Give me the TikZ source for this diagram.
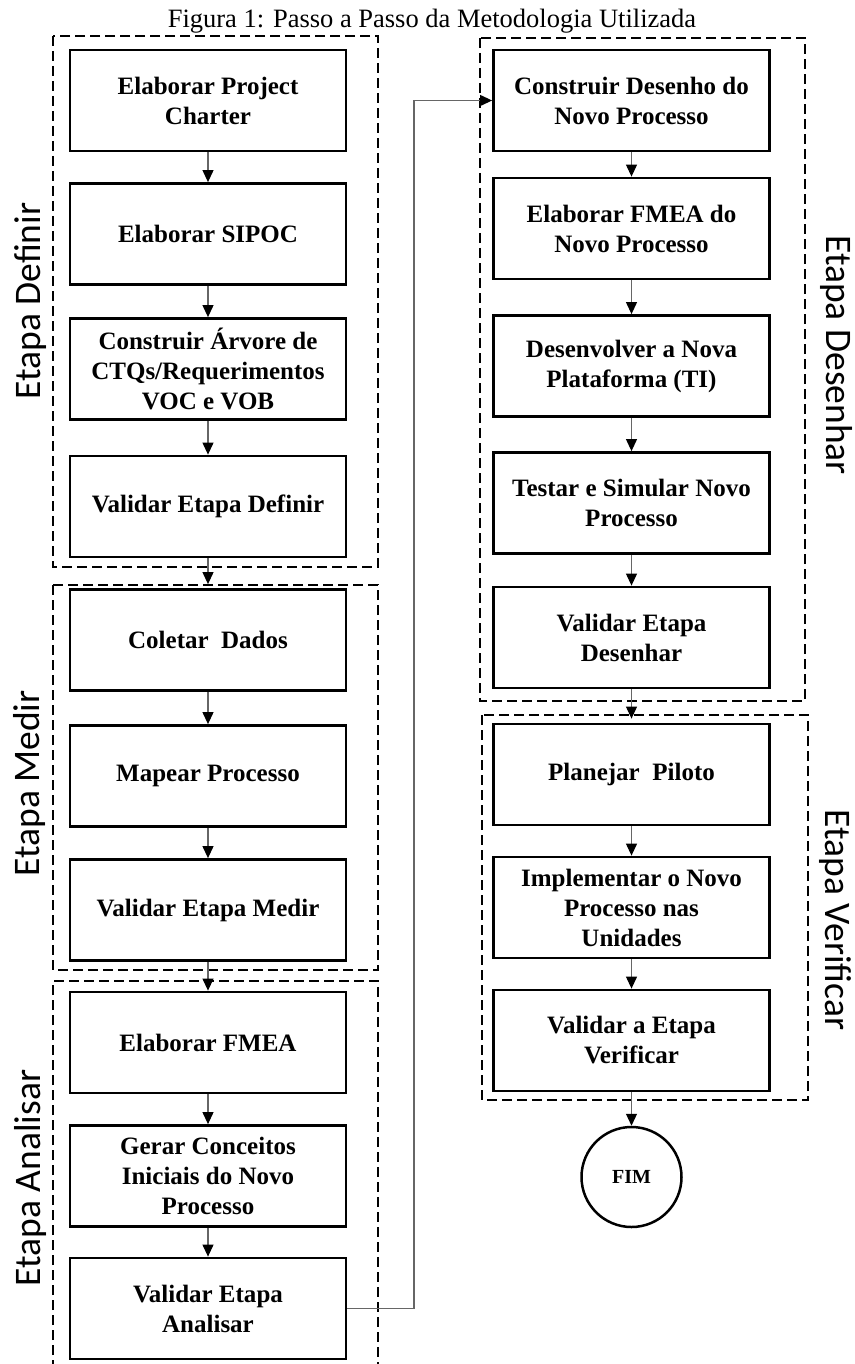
\documentclass[tikz,border=0pt]{standalone}
\usepackage{fontspec}
\setmainfont{Liberation Serif}
\newfontfamily\labfont{Carlito}
\usetikzlibrary{arrows.meta}
\begin{document}
\begin{tikzpicture}[x=1pt,y=-1pt,
  stepbox/.style={draw, line width=2.8pt, minimum width=276pt, minimum height=101pt,
    align=center, inner sep=0pt, font=\fontsize{25}{30}\selectfont\bfseries},
  frame/.style={draw, line width=2pt, dash pattern=on 10pt off 5pt},
  flow/.style={draw=black!60, line width=1.1pt, -{Triangle[length=12pt,width=11pt,color=black]}},
  lab/.style={inner sep=0pt, font=\labfont\fontsize{37.5}{40}\selectfont}]
\useasboundingbox (0,0) rectangle (854,1364);

% title
\node[anchor=base, inner sep=0pt, font=\fontsize{26.5}{28}\selectfont] (title) at (432,28)
  {Figura 1: Passo a Passo da Metodologia Utilizada};

% dashed frames
\draw[frame] (53,36) rectangle (378,567);
\draw[frame] (53,585) rectangle (378,970);
\draw[frame] (53,1370) -- (53,981) -- (378,981) -- (378,1370);
\draw[frame] (480,38) rectangle (805,701);
\draw[frame] (482,715) rectangle (808,1100);

% side labels
\node[lab, rotate=90, anchor=base] (ldef) at (40,301) {Etapa Definir};
\node[lab, rotate=90, anchor=base] (lmed) at (39,783.5) {Etapa Medir};
\node[lab, rotate=90, anchor=base] (lana) at (40,1178) {Etapa Analisar};
\node[lab, rotate=-90, anchor=base] (ldes) at (826,355) {Etapa Desenhar};
\node[lab, rotate=-90, anchor=base] (lver) at (825,920) {Etapa Verificar};

% left column
\node[stepbox] (d1) at (208,100.5) {Elaborar Project\\Charter};
\node[stepbox] (d2) at (208,234) {Elaborar SIPOC};
\node[stepbox] (d3) at (208,369) {Construir Árvore de\\CTQs/Requerimentos\\VOC e VOB};
\node[stepbox] (d4) at (208,506.5) {Validar Etapa Definir};
\node[stepbox] (m1) at (208,640) {Coletar\ \ Dados};
\node[stepbox] (m2) at (208,776) {Mapear Processo};
\node[stepbox] (m3) at (208,910) {Validar Etapa Medir};
\node[stepbox] (a1) at (208,1042.5) {Elaborar FMEA};
\node[stepbox] (a2) at (208,1176) {Gerar Conceitos\\Iniciais do Novo\\Processo};
\node[stepbox] (a3) at (208,1308.5) {Validar Etapa\\Analisar};

% right column
\node[stepbox] (r1) at (631.5,100.5) {Construir Desenho do\\Novo Processo};
\node[stepbox] (r2) at (631.5,228.5) {Elaborar FMEA do\\Novo Processo};
\node[stepbox] (r3) at (631.5,366) {Desenvolver a Nova\\Plataforma (TI)};
\node[stepbox] (r4) at (631.5,503) {Testar e Simular Novo\\Processo};
\node[stepbox] (r5) at (631.5,637.5) {Validar Etapa\\Desenhar};
\node[stepbox] (v1) at (631.5,774.5) {Planejar\ \ Piloto};
\node[stepbox] (v2) at (631.5,907.5) {Implementar o Novo\\Processo nas\\Unidades};
\node[stepbox] (v3) at (631.5,1040.5) {Validar a Etapa\\Verificar};
\node[draw, circle, line width=2.5pt, minimum size=100pt, inner sep=0pt,
  font=\fontsize{20}{22}\selectfont\bfseries] (fim) at (631.5,1177) {FIM};

% connectors
\draw[flow] (d1) -- (d2);
\draw[flow] (d2) -- (d3);
\draw[flow] (d3) -- (d4);
\draw[flow, shorten >=4pt] (d4) -- (m1);
\draw[flow] (m1) -- (m2);
\draw[flow] (m2) -- (m3);
\draw[flow] (m3) -- (a1);
\draw[flow] (a1) -- (a2);
\draw[flow] (a2) -- (a3);
\coordinate (turn) at (414,99);
\draw[flow] (a3.east) -- (a3.east -| turn) |- (r1.west);
\draw[flow] (r1) -- (r2);
\draw[flow] (r2) -- (r3);
\draw[flow] (r3) -- (r4);
\draw[flow] (r4) -- (r5);
\draw[flow, shorten >=4pt] (r5) -- (v1);
\draw[flow] (v1) -- (v2);
\draw[flow] (v2) -- (v3);
\draw[flow] (v3) -- (fim);
\end{tikzpicture}
\end{document}
